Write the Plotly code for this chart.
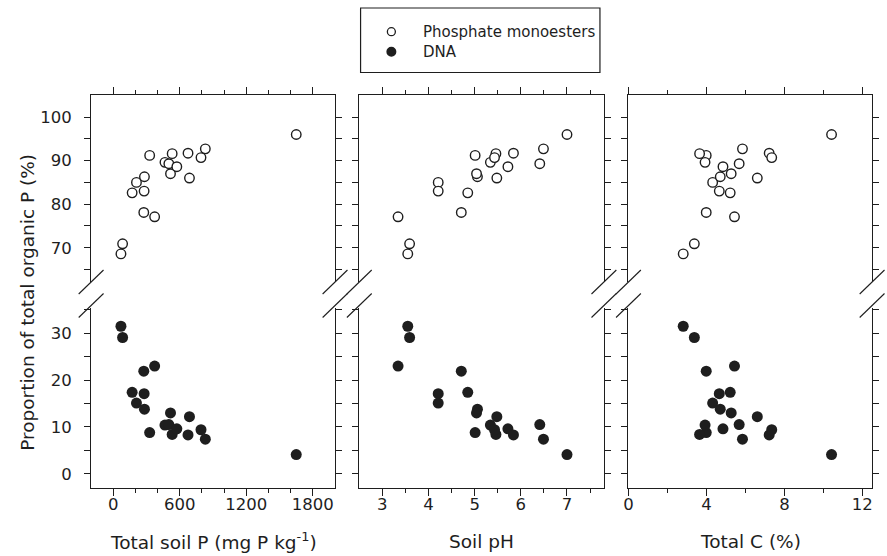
import plotly.graph_objects as go

# ---------------- data ----------------
total_p = [69, 84, 170, 209, 275, 278, 281, 328, 373, 466, 501, 516, 531, 573, 674, 687, 791, 830, 1650]
soil_ph = [3.55, 3.59, 4.85, 4.21, 4.71, 4.21, 5.06, 5.01, 3.34, 5.34, 6.41, 5.04, 5.46, 5.72, 5.84, 5.48, 5.43, 6.49, 7.00]
total_c = [2.81, 3.38, 5.22, 4.32, 3.99, 4.66, 4.71, 3.99, 5.44, 3.93, 5.68, 5.27, 3.65, 4.85, 7.22, 6.61, 7.35, 5.85, 10.42]
monoesters = [68.6, 70.9, 82.6, 85.0, 78.1, 83.0, 86.3, 91.2, 77.1, 89.6, 89.3, 87.0, 91.6, 88.6, 91.7, 86.0, 90.7, 92.7, 96.0]
dna = [31.5, 29.1, 17.4, 15.1, 21.9, 17.1, 13.8, 8.8, 23.0, 10.4, 10.5, 13.0, 8.4, 9.6, 8.3, 12.2, 9.4, 7.4, 4.1]

series_names = ["Phosphate monoesters", "DNA"]
x_titles = ["Total soil P (mg P kg<sup>-1</sup>)", "Soil pH", "Total C (%)"]
y_title = "Proportion of total organic P (%)"

top_major = [70, 80, 90, 100]
top_major_text = ["70", "80", "90", "100"]
top_minor = [65, 75, 85, 95]
bot_major = [0, 10, 20, 30]
bot_major_text = ["0", "10", "20", "30"]
bot_minor = [5, 15, 25, 35]

x_major = [[0, 600, 1200, 1800], [3, 4, 5, 6, 7], [0, 4, 8, 12]]
x_major_text = [["0", "600", "1200", "1800"], ["3", "4", "5", "6", "7"], ["0", "4", "8", "12"]]
x_minor = [[200, 400, 800, 1000, 1400, 1600], [3.5, 4.5, 5.5, 6.5, 7.5], [2, 6, 10]]
x_ranges = [[-200, 2000], [2.5, 7.8], [0, 12.5]]
top_range = [62.2, 105]
bot_range = [-3.1, 35.4]

# ---------------- geometry (pixels) ----------------
W, H = 887, 556
FONT = "DejaVu Sans"
INK = "#1e1e1e"

def fx(px):
    return px / W

def fy(py):
    return 1 - py / H

panel_px = [(86.7, 332.3), (356.7, 603.0), (627.7, 873.0)]
top_px = (95.3, 281.7)
bot_px = (308.0, 488.3)

fig = go.Figure()
layout = dict(
    width=W, height=H, autosize=False,
    margin=dict(l=0, r=0, t=0, b=0),
    paper_bgcolor="white", plot_bgcolor="white",
    showlegend=False,
    font=dict(family=FONT, color=INK),
)

xdata = [total_p, soil_ph, total_c]

def key(prefix, n):
    return f"{prefix}axis" if n == 1 else f"{prefix}axis{n}"

def ref(prefix, n):
    return prefix if n == 1 else f"{prefix}{n}"

shapes = []
annotations = []

for i in range(3):
    nb = 2 * i + 1  # bottom segment
    nt = 2 * i + 2  # top segment
    dom_x = [fx(panel_px[i][0]), fx(panel_px[i][1])]
    fig.add_trace(go.Scatter(
        x=xdata[i], y=monoesters, mode="markers", name=series_names[0],
        xaxis=ref("x", nt), yaxis=ref("y", nt),
        marker=dict(symbol="circle", size=9.5, color="white", line=dict(color=INK, width=1.4)),
        hoverinfo="x+y",
    ))
    fig.add_trace(go.Scatter(
        x=xdata[i], y=dna, mode="markers", name=series_names[1],
        xaxis=ref("x", nb), yaxis=ref("y", nb),
        marker=dict(symbol="circle", size=11, color=INK, line=dict(width=0)),
        hoverinfo="x+y",
    ))
    common_x = dict(
        domain=dom_x, range=x_ranges[i], showgrid=False, zeroline=False,
        showline=True, linecolor=INK, linewidth=1.3,
        ticks="outside", ticklen=7, tickwidth=1.2, tickcolor=INK,
        tickmode="array", tickvals=x_major[i], ticktext=x_major_text[i],
        minor=dict(tickvals=x_minor[i], ticks="outside", ticklen=4, tickwidth=1.1, tickcolor=INK),
        tickfont=dict(family=FONT, size=16.5, color=INK),
    )
    layout[key("x", nb)] = dict(common_x, anchor=ref("y", nb), side="bottom", ticklabelstandoff=-6)
    layout[key("x", nt)] = dict(common_x, anchor=ref("y", nt), side="top", showticklabels=False,
                                matches=ref("x", nb))
    common_y = dict(
        showgrid=False, zeroline=False, showline=True, linecolor=INK, linewidth=1.3,
        mirror="ticks", ticks="outside", ticklen=6, tickwidth=1.2, tickcolor=INK,
        tickmode="array", showticklabels=(i == 0),
        tickfont=dict(family=FONT, size=16.5, color=INK), ticklabelstandoff=9,
    )
    layout[key("y", nb)] = dict(common_y, domain=[fy(bot_px[1]), fy(bot_px[0])], range=bot_range,
                                tickvals=bot_major, ticktext=bot_major_text, anchor=ref("x", nb),
                                minor=dict(tickvals=bot_minor, ticks="outside", ticklen=6,
                                           tickwidth=1.2, tickcolor=INK))
    layout[key("y", nt)] = dict(common_y, domain=[fy(top_px[1]), fy(top_px[0])], range=top_range,
                                tickvals=top_major, ticktext=top_major_text, anchor=ref("x", nt),
                                minor=dict(tickvals=top_minor, ticks="outside", ticklen=6,
                                           tickwidth=1.2, tickcolor=INK))

    annotations.append(dict(
        text=x_titles[i], x=fx((panel_px[i][0] + panel_px[i][1]) / 2), y=fy(541),
        xref="paper", yref="paper", xanchor="center", yanchor="middle", showarrow=False,
        font=dict(family=FONT, size=18.5, color=INK),
    ))

    for ax_x in panel_px[i]:
        for cy in (282.0, 305.5):
            shapes.append(dict(
                type="line", xref="paper", yref="paper",
                x0=fx(ax_x - 12.5), y0=fy(cy + 12), x1=fx(ax_x + 12.5), y1=fy(cy - 12),
                line=dict(color=INK, width=1.1),
            ))

annotations.append(dict(
    text=y_title, x=fx(22), y=fy(302), xref="paper", yref="paper",
    xanchor="center", yanchor="middle", textangle=-90, showarrow=False,
    font=dict(family=FONT, size=18.5, color=INK),
))

shapes.append(dict(type="rect", xref="paper", yref="paper",
                   x0=fx(358), x1=fx(599), y0=fy(72.5), y1=fy(8),
                   line=dict(color=INK, width=1.2), fillcolor="rgba(0,0,0,0)"))
legend_rows = [31.7, 51.7]
shapes.append(dict(type="circle", xref="paper", yref="paper", xsizemode="pixel", ysizemode="pixel",
                   xanchor=fx(389), yanchor=fy(legend_rows[0]), x0=-4, x1=4, y0=-4, y1=4,
                   line=dict(color=INK, width=1.3), fillcolor="white"))
shapes.append(dict(type="circle", xref="paper", yref="paper", xsizemode="pixel", ysizemode="pixel",
                   xanchor=fx(389), yanchor=fy(legend_rows[1]), x0=-5, x1=5, y0=-5, y1=5,
                   line=dict(color=INK, width=0), fillcolor=INK))
for name, ry in zip(series_names, legend_rows):
    annotations.append(dict(
        text=name, x=fx(419), y=fy(ry), xref="paper", yref="paper",
        xanchor="left", yanchor="middle", showarrow=False,
        font=dict(family=FONT, size=15, color=INK),
    ))

layout["shapes"] = shapes
layout["annotations"] = annotations
fig.update_layout(**layout)
fig.write_html(
    "out.html",
    config={"displayModeBar": False},
    post_script="document.body.style.margin='0';document.body.style.padding='0';"
                "document.body.style.overflow='hidden';",
)
